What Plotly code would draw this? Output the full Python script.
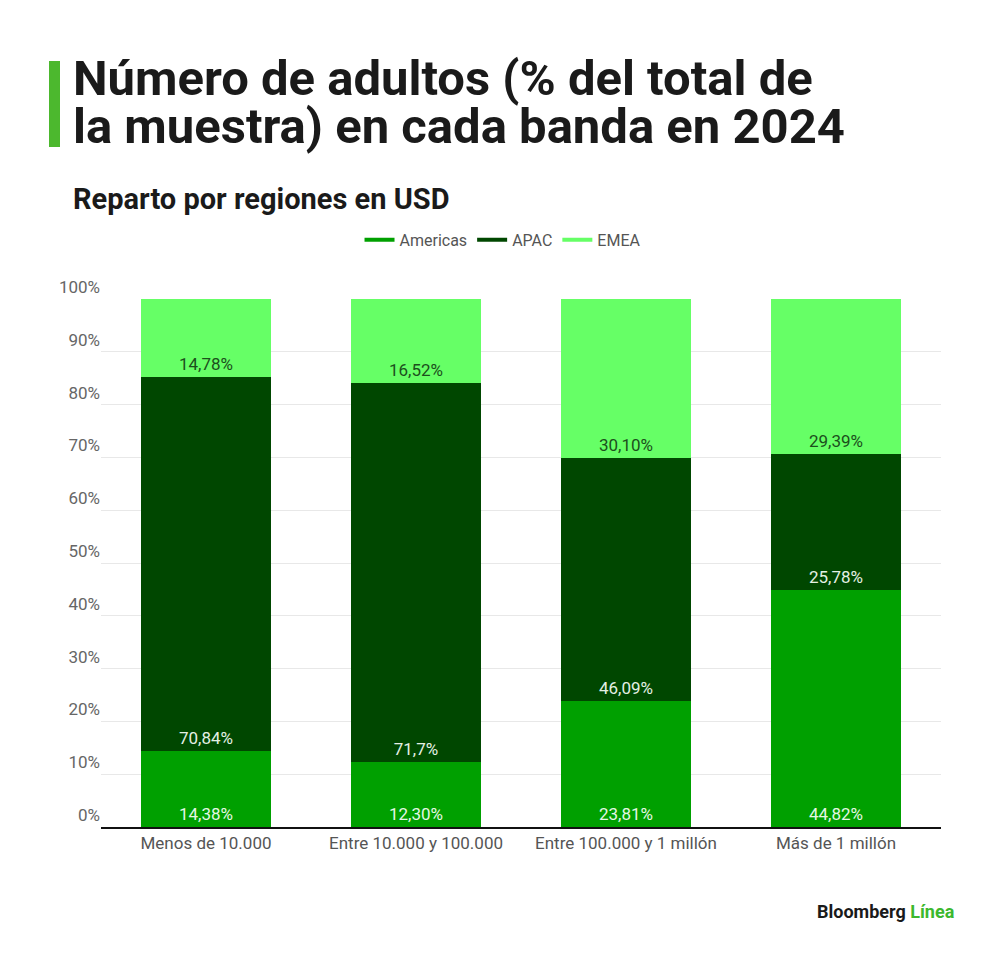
import plotly.graph_objects as go

# Datos (% del total de la muestra)
bandas = ["Menos de 10.000", "Entre 10.000 y 100.000", "Entre 100.000 y 1 millón", "Más de 1 millón"]
americas = [14.38, 12.30, 23.81, 44.82]
apac = [70.84, 71.7, 46.09, 25.78]
emea = [14.78, 16.52, 30.10, 29.39]
americas_txt = ["14,38%", "12,30%", "23,81%", "44,82%"]
apac_txt = ["70,84%", "71,7%", "46,09%", "25,78%"]
emea_txt = ["14,78%", "16,52%", "30,10%", "29,39%"]
y_ticks = [0, 10, 20, 30, 40, 50, 60, 70, 80, 90, 100]

FONT = "Roboto"
L, R, T, B = 93, 67, 291, 135
PW, PH = 1000 - L - R, 954 - T - B

series = [
    ("Americas", americas, americas_txt, "#00a000", "#e4f7e4"),
    ("APAC", apac, apac_txt, "#004700", "#e4f0e4"),
    ("EMEA", emea, emea_txt, "#66ff66", "#1c4f1c"),
]

fig = go.Figure()
for name, vals, txt, col, tcol in series:
    fig.add_trace(go.Bar(
        x=bandas, y=vals, name=name, text=txt,
        marker=dict(color=col, line=dict(width=0)),
        textposition="inside", insidetextanchor="start",
        textfont=dict(family=FONT, size=17, color=tcol),
        showlegend=False, hoverinfo="skip",
    ))
    # entrada de leyenda con trazo de línea
    fig.add_trace(go.Scatter(
        x=[None], y=[None], mode="lines", name=name,
        line=dict(color=col, width=4),
    ))

fig.update_layout(
    barmode="stack",
    bargap=0.38,
    width=1000, height=954,
    margin=dict(l=L, r=R, t=T, b=B),
    paper_bgcolor="white", plot_bgcolor="white",
    font=dict(family=FONT, color="#555555", size=16),
    legend=dict(orientation="h", x=0.478, xanchor="center", y=1.112, yanchor="middle",
                traceorder="normal", font=dict(size=16, color="#555555"), itemwidth=30),
    annotations=[
        dict(text="<b>Número de adultos (% del total de</b>", xref="paper", yref="paper",
             x=-0.036, y=1.0, xanchor="left", yanchor="top", showarrow=False,
             font=dict(family=FONT, size=49, color="#1a1a1a"),
             yshift=T - 40),
        dict(text="<b>la muestra) en cada banda en 2024</b>", xref="paper", yref="paper",
             x=-0.036, y=1.0, xanchor="left", yanchor="top", showarrow=False,
             font=dict(family=FONT, size=49, color="#1a1a1a"),
             yshift=T - 88),
        dict(text="<b>Reparto por regiones en USD</b>", xref="paper", yref="paper",
             x=-0.036, y=1.0, xanchor="left", yanchor="top", showarrow=False,
             font=dict(family=FONT, size=29, color="#1a1a1a"),
             yshift=T - 172),
        dict(text="<b>Bloomberg</b> <span style='color:#3cb82e'><b>Línea</b></span>",
             xref="paper", yref="paper", x=1.019, y=0, xanchor="right", yanchor="middle",
             showarrow=False, font=dict(family=FONT, size=18, color="#1a1a1a"),
             yshift=-84),
    ],
    shapes=[
        dict(type="rect", xref="paper", yref="paper",
             x0=(41 - L) / PW, x1=(52 - L) / PW,
             y0=(T + PH - 53) / PH, y1=(T + PH - 139) / PH,
             fillcolor="#4cb82e", line=dict(width=0)),
    ],
)

fig.update_yaxes(
    range=[0, 100], tickvals=y_ticks, ticktext=[f"{v}%" for v in y_ticks],
    showgrid=True, gridcolor="#e8e8e8", gridwidth=1, zeroline=False,
    ticklabelposition="outside top", ticks="", tickfont=dict(size=17, color="#666666"),
    fixedrange=True,
)
fig.update_xaxes(
    showline=True, linecolor="#111111", linewidth=2, ticks="",
    tickfont=dict(size=17, color="#555555"), fixedrange=True,
)

fig.write_html("out.html")
